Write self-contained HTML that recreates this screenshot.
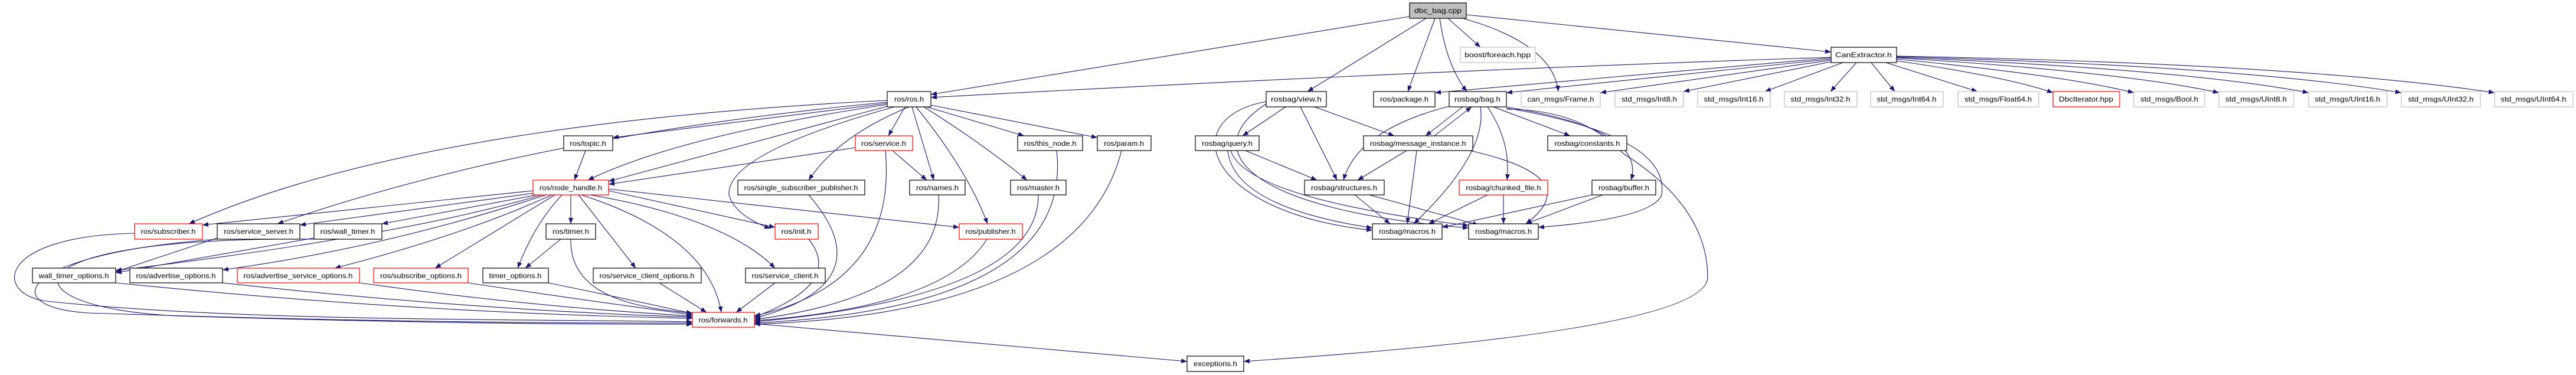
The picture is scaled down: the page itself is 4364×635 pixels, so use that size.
<!DOCTYPE html>
<html><head><meta charset="utf-8"><style>
html,body{margin:0;padding:0;background:#fff}
svg{display:block}
text{font-family:"Liberation Sans",sans-serif;font-size:12px;fill:#000}
.e{fill:none;stroke:#191970;stroke-width:1.1;marker-end:url(#a)}
.b{fill:#fff;stroke:#000;stroke-width:1.2}
.g{fill:#fff;stroke:#bfbfbf;stroke-width:1.2}
.r{fill:#fff;stroke:#ff0000;stroke-width:1.2}
</style></head><body>
<svg width="4364" height="635" viewBox="0 0 4364 635" xmlns="http://www.w3.org/2000/svg">
<defs><marker id="a" markerUnits="userSpaceOnUse" markerWidth="11" markerHeight="8" refX="10" refY="4" orient="auto"><path d="M0,0 L10,4 L0,8 z" fill="#191970"/></marker></defs>
<g>
<!-- dbc_bag -->
<path class="e" d="M2388,28 L1577,160"/>
<path class="e" d="M2416,31 L2215,155"/>
<path class="e" d="M2431,31 L2385,155"/>
<path class="e" d="M2439,31 Q2450,110 2485,155"/>
<path class="e" d="M2453,31 L2508,80"/>
<path class="e" d="M2463,27 Q2630,70 2640,155"/>
<path class="e" d="M2484,25 L3102,88"/>
<!-- CanExtractor -->
<path class="e" d="M3102,97 Q2400,120 1577,165"/>
<path class="e" d="M3102,98 L2431,157"/>
<path class="e" d="M3102,100 L2552,157"/>
<path class="e" d="M3102,102 L2711,157"/>
<path class="e" d="M3105,104 L2852,155"/>
<path class="e" d="M3122,106 L2990,155"/>
<path class="e" d="M3145,106 L3101,155"/>
<path class="e" d="M3170,106 L3210,155"/>
<path class="e" d="M3195,106 L3350,155"/>
<path class="e" d="M3213,103 Q3400,130 3478,157"/>
<path class="e" d="M3213,100 Q3500,128 3615,157"/>
<path class="e" d="M3213,98 Q3600,122 3759,157"/>
<path class="e" d="M3213,97 Q3700,117 3911,157"/>
<path class="e" d="M3213,96 Q3800,112 4068,157"/>
<path class="e" d="M3213,95 Q3900,108 4226,157"/>
<!-- ros.h -->
<path class="e" d="M1503,170 Q700,210 320,379"/>
<path class="e" d="M1503,173 Q900,230 470,379"/>
<path class="e" d="M1503,175 L1038,233"/>
<path class="e" d="M1503,177 Q1150,230 996,305"/>
<path class="e" d="M1503,180 L1031,307"/>
<path class="e" d="M1515,181 Q1230,260 1235,330 Q1245,365 1305,387"/>
<path class="e" d="M1540,181 Q1420,230 1370,305"/>
<path class="e" d="M1533,181 L1505,230"/>
<path class="e" d="M1545,181 L1582,305"/>
<path class="e" d="M1552,181 Q1640,290 1673,379"/>
<path class="e" d="M1570,181 L1735,230"/>
<path class="e" d="M1577,178 L1859,233"/>
<path class="e" d="M1565,181 Q1660,240 1740,305"/>
<!-- service / topic -->
<path class="e" d="M1512,255 L1570,305"/>
<path class="e" d="M1500,255 Q1520,480 1278,535"/>
<path class="e" d="M1449,250 L1031,312"/>
<path class="e" d="M992,255 L973,305"/>
<!-- node_handle -->
<path class="e" d="M903,323 L343,381"/>
<path class="e" d="M905,327 L508,381"/>
<path class="e" d="M910,330 L647,379"/>
<path class="e" d="M918,330 Q680,400 196,458"/>
<path class="e" d="M925,330 Q650,420 377,457"/>
<path class="e" d="M935,330 Q780,400 567,454"/>
<path class="e" d="M940,330 L737,454"/>
<path class="e" d="M952,330 Q905,380 877,454"/>
<path class="e" d="M967,330 L967,379"/>
<path class="e" d="M980,330 L1077,454"/>
<path class="e" d="M1000,330 Q1230,370 1313,454"/>
<path class="e" d="M1031,323 L1313,385"/>
<path class="e" d="M1031,320 L1625,385"/>
<path class="e" d="M985,330 Q1200,400 1222,529"/>
<!-- to forwards -->
<path class="e" d="M228,395 C-10,400 -10,500 80,510 C400,545 900,540 1173,545"/>
<path class="e" d="M368,405 C30,430 -10,520 150,530 Q700,548 1173,547"/>
<path class="e" d="M532,405 C0,400 0,520 300,535 Q800,550 1173,549"/>
<path class="e" d="M196,479 Q700,530 1173,539"/>
<path class="e" d="M377,479 Q800,525 1173,537"/>
<path class="e" d="M609,479 Q900,520 1173,535"/>
<path class="e" d="M793,479 Q1000,510 1173,533"/>
<path class="e" d="M929,479 Q1080,510 1173,531"/>
<path class="e" d="M1117,479 L1197,529"/>
<path class="e" d="M1313,479 L1247,529"/>
<path class="e" d="M967,405 C965,490 1050,520 1173,530"/>
<path class="e" d="M532,403 L196,462"/>
<path class="e" d="M368,403 L196,460"/>
<path class="e" d="M950,405 L890,454"/>
<path class="e" d="M1370,405 Q1430,480 1278,537"/>
<path class="e" d="M1370,330 Q1500,480 1278,539"/>
<path class="e" d="M1590,330 Q1600,500 1278,541"/>
<path class="e" d="M1672,405 Q1600,520 1278,543"/>
<path class="e" d="M1759,330 Q1760,500 1278,545"/>
<path class="e" d="M1790,255 Q1820,520 1278,547"/>
<path class="e" d="M1900,255 Q1830,530 1278,549"/>
<path class="e" d="M1278,548 L2011,612"/>
<!-- view / query -->
<path class="e" d="M2178,181 L2105,230"/>
<path class="e" d="M2227,181 L2362,230"/>
<path class="e" d="M2203,181 L2265,305"/>
<path class="e" d="M2145,172 C1990,200 2040,360 2325,390"/>
<path class="e" d="M2145,176 C2030,250 2100,355 2488,386"/>
<path class="e" d="M2110,255 L2231,305"/>
<path class="e" d="M2080,255 Q2090,350 2325,386"/>
<path class="e" d="M2085,255 Q2110,335 2488,382"/>
<!-- bag.h -->
<path class="e" d="M2478,181 L2415,230"/>
<path class="e" d="M2430,230 L2493,181"/>
<path class="e" d="M2455,180 Q2300,220 2276,305"/>
<path class="e" d="M2508,181 Q2520,260 2395,379"/>
<path class="e" d="M2520,181 Q2560,240 2553,305"/>
<path class="e" d="M2530,181 L2660,230"/>
<path class="e" d="M2552,181 Q2790,220 2763,305"/>
<path class="e" d="M2552,183 Q2830,230 2815,330 Q2800,370 2606,385"/>
<path class="e" d="M2552,185 Q2680,185 2750,260 Q2893,350 2893,470 Q2890,560 2107,612"/>
<path class="e" d="M2383,255 L2300,305"/>
<path class="e" d="M2400,255 L2384,379"/>
<path class="e" d="M2490,255 Q2690,300 2585,379"/>
<path class="e" d="M2295,330 L2355,379"/>
<path class="e" d="M2320,330 L2505,381"/>
<path class="e" d="M2520,330 L2420,379"/>
<path class="e" d="M2547,330 L2547,379"/>
<path class="e" d="M2697,330 L2443,385"/>
<path class="e" d="M2715,330 L2585,379"/>
</g>
<g text-anchor="middle">
<rect x="2388" y="5" width="96" height="26" fill="#bfbfbf" stroke="#000" stroke-width="1.2"/><text x="2436" y="22" textLength="80" lengthAdjust="spacingAndGlyphs">dbc_bag.cpp</text>
<rect class="g" x="2474" y="80" width="127" height="26"/><text x="2537" y="97" textLength="112" lengthAdjust="spacingAndGlyphs">boost/foreach.hpp</text>
<rect class="b" x="3102" y="80" width="111" height="26"/><text x="3157" y="97" textLength="96" lengthAdjust="spacingAndGlyphs">CanExtractor.h</text>
<rect class="b" x="1503" y="155" width="74" height="26"/><text x="1540" y="172" textLength="50" lengthAdjust="spacingAndGlyphs">ros/ros.h</text>
<rect class="b" x="2145" y="155" width="102" height="26"/><text x="2196" y="172" textLength="86" lengthAdjust="spacingAndGlyphs">rosbag/view.h</text>
<rect class="b" x="2327" y="155" width="104" height="26"/><text x="2379" y="172" textLength="82" lengthAdjust="spacingAndGlyphs">ros/package.h</text>
<rect class="b" x="2455" y="155" width="97" height="26"/><text x="2503" y="172" textLength="78" lengthAdjust="spacingAndGlyphs">rosbag/bag.h</text>
<rect class="g" x="2577" y="155" width="134" height="26"/><text x="2644" y="172" textLength="113" lengthAdjust="spacingAndGlyphs">can_msgs/Frame.h</text>
<rect class="g" x="2736" y="155" width="116" height="26"/><text x="2794" y="172" textLength="94" lengthAdjust="spacingAndGlyphs">std_msgs/Int8.h</text>
<rect class="g" x="2876" y="155" width="123" height="26"/><text x="2937" y="172" textLength="101" lengthAdjust="spacingAndGlyphs">std_msgs/Int16.h</text>
<rect class="g" x="3023" y="155" width="123" height="26"/><text x="3084" y="172" textLength="101" lengthAdjust="spacingAndGlyphs">std_msgs/Int32.h</text>
<rect class="g" x="3169" y="155" width="123" height="26"/><text x="3230" y="172" textLength="101" lengthAdjust="spacingAndGlyphs">std_msgs/Int64.h</text>
<rect class="g" x="3317" y="155" width="137" height="26"/><text x="3385" y="172" textLength="114" lengthAdjust="spacingAndGlyphs">std_msgs/Float64.h</text>
<rect class="r" x="3478" y="155" width="113" height="26"/><text x="3534" y="172" textLength="92" lengthAdjust="spacingAndGlyphs">DbcIterator.hpp</text>
<rect class="g" x="3615" y="155" width="120" height="26"/><text x="3675" y="172" textLength="98" lengthAdjust="spacingAndGlyphs">std_msgs/Bool.h</text>
<rect class="g" x="3759" y="155" width="127" height="26"/><text x="3822" y="172" textLength="104" lengthAdjust="spacingAndGlyphs">std_msgs/UInt8.h</text>
<rect class="g" x="3911" y="155" width="133" height="26"/><text x="3977" y="172" textLength="111" lengthAdjust="spacingAndGlyphs">std_msgs/UInt16.h</text>
<rect class="g" x="4068" y="155" width="134" height="26"/><text x="4135" y="172" textLength="111" lengthAdjust="spacingAndGlyphs">std_msgs/UInt32.h</text>
<rect class="g" x="4226" y="155" width="133" height="26"/><text x="4292" y="172" textLength="111" lengthAdjust="spacingAndGlyphs">std_msgs/UInt64.h</text>

<rect class="b" x="955" y="230" width="83" height="25"/><text x="996" y="247" textLength="62" lengthAdjust="spacingAndGlyphs">ros/topic.h</text>
<rect class="r" x="1449" y="230" width="97" height="25"/><text x="1497" y="247" textLength="76" lengthAdjust="spacingAndGlyphs">ros/service.h</text>
<rect class="b" x="1724" y="230" width="110" height="25"/><text x="1779" y="247" textLength="89" lengthAdjust="spacingAndGlyphs">ros/this_node.h</text>
<rect class="b" x="1859" y="230" width="91" height="25"/><text x="1904" y="247" textLength="68" lengthAdjust="spacingAndGlyphs">ros/param.h</text>
<rect class="b" x="2025" y="230" width="108" height="25"/><text x="2079" y="247" textLength="86" lengthAdjust="spacingAndGlyphs">rosbag/query.h</text>
<rect class="b" x="2310" y="230" width="185" height="25"/><text x="2402" y="247" textLength="163" lengthAdjust="spacingAndGlyphs">rosbag/message_instance.h</text>
<rect class="b" x="2622" y="230" width="134" height="25"/><text x="2689" y="247" textLength="111" lengthAdjust="spacingAndGlyphs">rosbag/constants.h</text>

<rect class="r" x="903" y="305" width="128" height="25"/><text x="967" y="322" textLength="106" lengthAdjust="spacingAndGlyphs">ros/node_handle.h</text>
<rect class="b" x="1250" y="305" width="215" height="25"/><text x="1357" y="322" textLength="193" lengthAdjust="spacingAndGlyphs">ros/single_subscriber_publisher.h</text>
<rect class="b" x="1541" y="305" width="94" height="25"/><text x="1588" y="322" textLength="72" lengthAdjust="spacingAndGlyphs">ros/names.h</text>
<rect class="b" x="1712" y="305" width="94" height="25"/><text x="1759" y="322" textLength="72" lengthAdjust="spacingAndGlyphs">ros/master.h</text>
<rect class="b" x="2210" y="305" width="135" height="25"/><text x="2277" y="322" textLength="112" lengthAdjust="spacingAndGlyphs">rosbag/structures.h</text>
<rect class="r" x="2472" y="305" width="150" height="25"/><text x="2547" y="322" textLength="127" lengthAdjust="spacingAndGlyphs">rosbag/chunked_file.h</text>
<rect class="b" x="2697" y="305" width="108" height="25"/><text x="2751" y="322" textLength="86" lengthAdjust="spacingAndGlyphs">rosbag/buffer.h</text>

<rect class="r" x="228" y="379" width="115" height="26"/><text x="285" y="396" textLength="93" lengthAdjust="spacingAndGlyphs">ros/subscriber.h</text>
<rect class="b" x="368" y="379" width="140" height="26"/><text x="438" y="396" textLength="118" lengthAdjust="spacingAndGlyphs">ros/service_server.h</text>
<rect class="b" x="532" y="379" width="115" height="26"/><text x="589" y="396" textLength="93" lengthAdjust="spacingAndGlyphs">ros/wall_timer.h</text>
<rect class="b" x="925" y="379" width="84" height="26"/><text x="967" y="396" textLength="62" lengthAdjust="spacingAndGlyphs">ros/timer.h</text>
<rect class="r" x="1313" y="379" width="73" height="26"/><text x="1349" y="396" textLength="51" lengthAdjust="spacingAndGlyphs">ros/init.h</text>
<rect class="r" x="1625" y="379" width="107" height="26"/><text x="1678" y="396" textLength="85" lengthAdjust="spacingAndGlyphs">ros/publisher.h</text>
<rect class="b" x="2325" y="379" width="118" height="26"/><text x="2384" y="396" textLength="96" lengthAdjust="spacingAndGlyphs">rosbag/macros.h</text>
<rect class="b" x="2488" y="379" width="118" height="26"/><text x="2547" y="396" textLength="96" lengthAdjust="spacingAndGlyphs">rosbag/macros.h</text>

<rect class="b" x="55" y="454" width="141" height="25"/><text x="125" y="471" textLength="119" lengthAdjust="spacingAndGlyphs">wall_timer_options.h</text>
<rect class="b" x="220" y="454" width="157" height="25"/><text x="298" y="471" textLength="135" lengthAdjust="spacingAndGlyphs">ros/advertise_options.h</text>
<rect class="r" x="402" y="454" width="207" height="25"/><text x="505" y="471" textLength="185" lengthAdjust="spacingAndGlyphs">ros/advertise_service_options.h</text>
<rect class="r" x="633" y="454" width="160" height="25"/><text x="713" y="471" textLength="138" lengthAdjust="spacingAndGlyphs">ros/subscribe_options.h</text>
<rect class="b" x="818" y="454" width="111" height="25"/><text x="873" y="471" textLength="89" lengthAdjust="spacingAndGlyphs">timer_options.h</text>
<rect class="b" x="1005" y="454" width="183" height="25"/><text x="1096" y="471" textLength="161" lengthAdjust="spacingAndGlyphs">ros/service_client_options.h</text>
<rect class="b" x="1263" y="454" width="135" height="25"/><text x="1330" y="471" textLength="113" lengthAdjust="spacingAndGlyphs">ros/service_client.h</text>

<rect class="r" x="1173" y="529" width="105" height="25"/><text x="1225" y="546" textLength="83" lengthAdjust="spacingAndGlyphs">ros/forwards.h</text>
<rect class="b" x="2011" y="603" width="96" height="26"/><text x="2059" y="620" textLength="74" lengthAdjust="spacingAndGlyphs">exceptions.h</text>
</g>
</svg>
</body></html>
